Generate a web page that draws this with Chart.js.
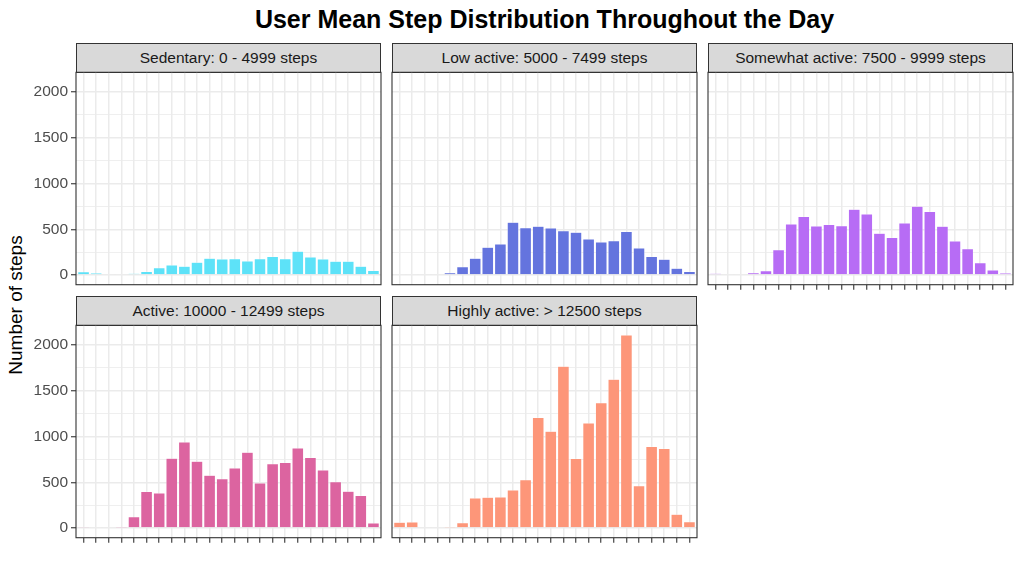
<!DOCTYPE html>
<html>
<head>
<meta charset="utf-8">
<script src="https://cdn.jsdelivr.net/npm/chart.js@4"></script>
<style>
  body { margin: 0; background: #fff; width: 1024px; height: 576px; position: relative; overflow: hidden;
         font-family: "Liberation Sans", Arial, sans-serif; }
  .title { position: absolute; left: 76px; width: 937px; top: 5px; text-align: center;
           font-weight: bold; font-size: 25px; color: #000; }
  .ylab { position: absolute; left: 16px; top: 305px; transform: translate(-50%, -50%) rotate(-90deg);
          font-size: 19px; white-space: nowrap; color: #000; }
  .strip { position: absolute; box-sizing: border-box; width: 305px; height: 30px; background: #d9d9d9;
           border: 1px solid #333; color: #1a1a1a; font-size: 15.5px; line-height: 28px; text-align: center; }
  canvas { position: absolute; }
</style>
</head>
<body>
<div class="title">User Mean Step Distribution Throughout the Day</div>
<div class="ylab">Number of steps</div>
<div id="panels"></div>

<script>
// hours of the day (x categories)
const hours = [0, 1, 2, 3, 4, 5, 6, 7, 8, 9, 10, 11, 12, 13, 14, 15, 16, 17, 18, 19, 20, 21, 22, 23];

// mean steps per hour for each activity group
const sedentary      = [36, 22, 11, 7, 18, 40, 80, 110, 95, 139, 183, 175, 179, 153, 179, 204, 179, 259, 197, 175, 150, 150, 95, 51];
const lowActive      = [11, 11, 7, 7, 26, 91, 183, 303, 340, 577, 518, 533, 515, 485, 467, 394, 361, 376, 475, 296, 204, 172, 73, 40];
const somewhatActive = [18, 11, 7, 26, 47, 277, 558, 639, 537, 551, 540, 719, 668, 456, 409, 569, 752, 694, 533, 372, 288, 135, 55, 22];
const active         = [14, 7, 7, 4, 123, 398, 384, 764, 941, 731, 576, 539, 655, 829, 492, 702, 717, 876, 771, 634, 507, 402, 355, 54];
const highlyActive   = [62, 65, 7, 11, 2, 58, 329, 337, 340, 416, 529, 1209, 1057, 1767, 760, 1148, 1368, 1625, 2110, 463, 890, 869, 152, 69];

const groupNames = ['Sedentary: 0 - 4999 steps', 'Low active: 5000 - 7499 steps', 'Somewhat active: 7500 - 9999 steps',
                    'Active: 10000 - 12499 steps', 'Highly active: > 12500 steps'];
const groupValues = [sedentary, lowActive, somewhatActive, active, highlyActive];
const groupColors = ['#5de2f8', '#6474de', '#b76cf5', '#dc64a0', '#fd9679'];

// y axis ticks (labels), minor lines halfway between
const yTicks = [0, 500, 1000, 1500, 2000];
const yMinor = [250, 750, 1250, 1750];

// ggplot-like expansion of the ranges
const yMax = Math.max(...groupValues.flat());
const yMin = -0.05 * yMax, yTop = yMax * 1.05;

const colLeft = [76, 392, 708];
const rowTop = [72, 325];
const plotW = 305, plotH = 213, axisW = 76, pad = 12;

const panelBorder = {
  id: 'panelBorder',
  afterDraw(chart) {
    const { ctx, chartArea: a } = chart;
    ctx.save();
    ctx.strokeStyle = '#333';
    ctx.lineWidth = 1.1;
    ctx.strokeRect(a.left, a.top, a.right - a.left, a.bottom - a.top);
    ctx.restore();
  }
};

const holder = document.getElementById('panels');

groupNames.forEach((name, i) => {
  const col = i % 3, row = Math.floor(i / 3);
  const left = colLeft[col], top = rowTop[row];
  const showY = col === 0;
  const showX = row === 1 || i === 2; // bottom panel of each column

  const strip = document.createElement('div');
  strip.className = 'strip';
  strip.style.left = left + 'px';
  strip.style.top = (top - 29) + 'px';
  strip.textContent = name;
  holder.appendChild(strip);

  const canvas = document.createElement('canvas');
  canvas.width = axisW + plotW + 2;
  canvas.height = pad + plotH + pad;
  canvas.style.left = (left - axisW) + 'px';
  canvas.style.top = (top - pad) + 'px';
  holder.appendChild(canvas);

  new Chart(canvas.getContext('2d'), {
    type: 'bar',
    data: {
      labels: hours,
      datasets: [{
        data: groupValues[i],
        backgroundColor: groupColors[i],
        borderColor: 'rgba(255,255,255,0.8)',
        borderWidth: 0.5,
        barPercentage: 0.92,
        categoryPercentage: 1
      }]
    },
    options: {
      responsive: false,
      animation: false,
      events: [],
      layout: { padding: { top: pad, right: 2, left: 0, bottom: 0 } },
      plugins: { legend: { display: false }, tooltip: { enabled: false } },
      scales: {
        x: {
          type: 'linear',
          min: -0.6,
          max: 23.6,
          offset: false,
          afterBuildTicks: s => { s.ticks = hours.map(h => ({ value: h })); },
          afterFit: s => { s.height = pad; },
          border: { display: false },
          grid: {
            offset: false,
            color: '#ebebeb',
            lineWidth: 1.5,
            tickLength: 5,
            tickWidth: 1.1,
            tickColor: showX ? '#333' : 'rgba(0,0,0,0)'
          },
          ticks: { autoSkip: false, maxRotation: 0, callback: () => '' }
        },
        y: {
          min: yMin,
          max: yTop,
          afterBuildTicks: s => {
            s.ticks = yTicks.concat(yMinor).sort((a, b) => a - b).map(v => ({ value: v }));
          },
          afterFit: s => { s.width = axisW; },
          border: { display: false },
          grid: {
            color: '#ebebeb',
            lineWidth: c => (yTicks.includes(c.tick.value) ? 1.5 : 0.8),
            tickLength: 5,
            tickWidth: 1.1,
            tickColor: c => (showY && yTicks.includes(c.tick.value) ? '#333' : 'rgba(0,0,0,0)')
          },
          ticks: {
            autoSkip: false,
            padding: 3,
            color: '#4d4d4d',
            font: { family: '"Liberation Sans", Arial, sans-serif', size: 15.5 },
            callback: v => (showY && yTicks.includes(v) ? String(v) : '')
          }
        }
      }
    },
    plugins: [panelBorder]
  });
});
</script>
</body>
</html>
